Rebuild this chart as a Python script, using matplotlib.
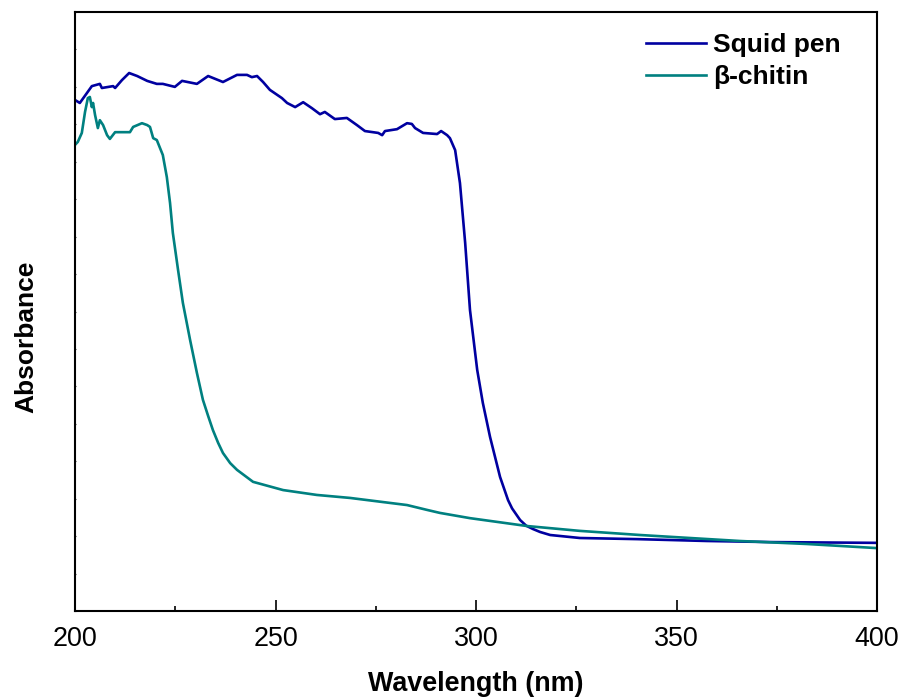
import matplotlib
matplotlib.use("Agg")
import matplotlib.pyplot as plt
from matplotlib.ticker import MultipleLocator

plt.rcParams['font.family'] = ['Liberation Sans', 'DejaVu Sans']

# UV-Vis absorbance spectra (arbitrary units)
squid_wl = [200.0, 201.2, 204.2, 206.2, 206.7, 209.5, 210.0, 211.7, 213.5, 215.5,
            218.0, 220.4, 221.9, 224.9, 226.7, 230.4, 233.2, 236.9, 240.4, 242.9,
            244.1, 245.4, 246.9, 248.6, 251.6, 252.9, 254.9, 256.9, 259.1, 261.1,
            262.3, 264.8, 267.8, 270.3, 272.3, 275.6, 276.6, 277.3, 280.3, 282.8,
            284.0, 284.8, 286.8, 290.3, 291.3, 292.8, 293.5, 294.8, 296.0, 297.3,
            298.5, 300.3, 301.7, 303.5, 306.0, 308.0, 309.0, 311.0, 312.5, 314.2,
            316.0, 318.5, 325.9, 340.1, 357.6, 374.1, 400.0]
squid_abs = [1.365, 1.357, 1.402, 1.408, 1.397, 1.402, 1.397, 1.418, 1.437, 1.429,
             1.416, 1.408, 1.408, 1.400, 1.416, 1.408, 1.429, 1.413, 1.432, 1.432,
             1.426, 1.429, 1.413, 1.392, 1.370, 1.357, 1.346, 1.359, 1.343, 1.327,
             1.333, 1.314, 1.317, 1.298, 1.282, 1.277, 1.271, 1.282, 1.287, 1.303,
             1.301, 1.290, 1.277, 1.274, 1.282, 1.271, 1.263, 1.231, 1.143, 0.983,
             0.804, 0.644, 0.556, 0.465, 0.358, 0.296, 0.274, 0.243, 0.228, 0.219,
             0.211, 0.203, 0.195, 0.192, 0.187, 0.184, 0.182]

chitin_wl = [200.0, 200.7, 201.7, 202.5, 203.2, 203.7, 204.2, 204.5, 205.0, 205.7,
             206.2, 207.0, 208.0, 208.7, 210.0, 211.7, 213.7, 214.5, 216.7, 218.0,
             218.7, 219.5, 220.4, 221.9, 222.9, 223.7, 224.4, 225.7, 226.9, 228.7,
             230.4, 231.9, 233.2, 234.4, 235.7, 236.9, 238.7, 240.4, 242.4, 244.4,
             251.9, 260.3, 268.6, 276.8, 282.8, 287.8, 291.0, 298.5, 312.7, 325.9,
             340.9, 365.8, 382.5, 400.0]
chitin_abs = [1.245, 1.253, 1.277, 1.333, 1.370, 1.373, 1.346, 1.357, 1.325, 1.290,
              1.311, 1.298, 1.271, 1.261, 1.279, 1.279, 1.279, 1.293, 1.303, 1.298,
              1.293, 1.263, 1.258, 1.218, 1.159, 1.090, 1.010, 0.911, 0.823, 0.724,
              0.636, 0.564, 0.521, 0.483, 0.449, 0.422, 0.395, 0.377, 0.361, 0.345,
              0.323, 0.310, 0.302, 0.291, 0.283, 0.270, 0.262, 0.248, 0.227, 0.214,
              0.203, 0.187, 0.179, 0.168]

series_labels = ["Squid pen", "\u03b2-chitin"]
series_colors = ["#0000A0", "#008080"]
x_ticks = [200, 250, 300, 350, 400]

W, H = 901, 697
fig = plt.figure(figsize=(W / 100, H / 100), dpi=100)
ax = fig.add_axes([75 / W, 1 - 611 / H, (877 - 75) / W, (611 - 12) / H])

ax.plot(squid_wl, squid_abs, color=series_colors[0], lw=1.9, label=series_labels[0])
ax.plot(chitin_wl, chitin_abs, color=series_colors[1], lw=1.9, label=series_labels[1])

ax.set_xlim(200, 400)
ax.set_ylim(0, 1.6)
ax.set_xticks(x_ticks)
ax.xaxis.set_minor_locator(MultipleLocator(25))
ax.yaxis.set_major_locator(MultipleLocator(0.1))
ax.set_yticklabels([])

for s in ax.spines.values():
    s.set_linewidth(1.5)
    s.set_color("black")

ax.tick_params(axis='x', which='major', direction='in', length=8, width=1.2,
               labelsize=19.4, pad=10.5, top=False)
ax.tick_params(axis='x', which='minor', direction='in', length=3.8, width=1.2, top=False)
ax.tick_params(axis='y', which='major', direction='in', length=0.9, width=0.8,
               color='#444444', left=True, right=True, labelleft=False)

fig.text(476 / W, 1 - 691 / H, "Wavelength (nm)", ha='center', va='baseline',
         fontsize=19.4, fontweight='bold')
fig.text(26 / W, 1 - 337 / H, "Absorbance", ha='center', va='center',
         rotation=90, fontsize=19.0, fontweight='bold')

leg = ax.legend(loc='upper left', bbox_to_anchor=(0.712, 0.965), frameon=False,
                prop={'size': 19, 'weight': 'bold'}, handlelength=2.27,
                handletextpad=0.27, labelspacing=0.3, borderpad=0, borderaxespad=0)

fig.savefig("out.png", dpi=100)
